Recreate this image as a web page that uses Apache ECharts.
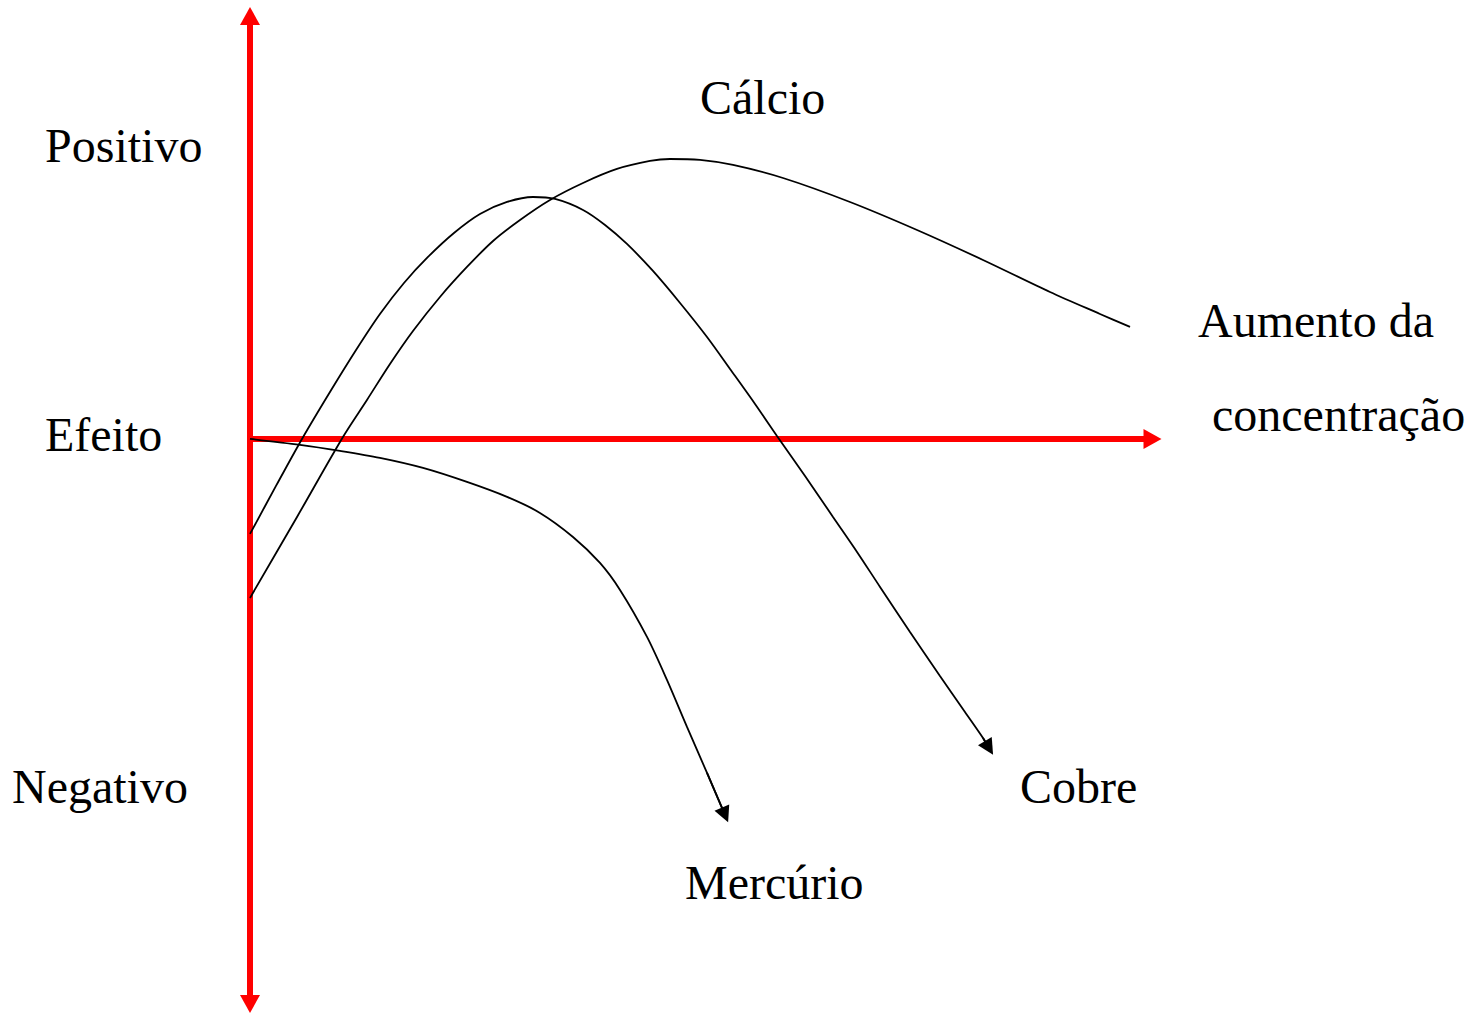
<!DOCTYPE html>
<html>
<head>
<meta charset="utf-8">
<script src="https://cdn.jsdelivr.net/npm/echarts@6/dist/echarts.min.js"></script>
<style>
html,body{margin:0;padding:0;background:#fff;}
#chart{width:1470px;height:1015px;}
</style>
</head>
<body>
<div id="chart"></div>
<script>
// Concentration (x, 0..100) vs effect (y, positive up)
var cobre = [[0,-22.46],[2.88,-11.11],[5.76,0],[8.86,11.11],[11.75,21.04],[14.40,29.55],[17.06,36.88],[19.72,43.03],[22.60,48.70],[25.48,53.19],[28.48,56.03],[31.36,57.21],[33.80,56.74],[36.90,54.14],[39.34,50.59],[41.77,46.10],[44.65,39.72],[47.65,32.15],[50.64,24.11],[53.19,16.55],[55.96,8.27],[58.39,0.71],[61.50,-8.75],[64.60,-18.44],[67.26,-26.71],[69.81,-34.99],[73.13,-45.63],[76.45,-56.03],[79.22,-64.54],[81.22,-70.69],[81.88,-73.05]];
var calcio = [[0,-37.59],[5.21,-18.44],[10.30,0.47],[12.96,9.22],[15.51,17.73],[18.06,25.53],[21.05,33.57],[24.04,40.66],[26.93,46.81],[29.92,51.77],[33.24,56.50],[36.90,60.52],[40.66,63.83],[44.32,65.72],[46.54,66.19],[49.86,65.96],[53.52,64.78],[59.06,61.70],[66.48,56.03],[73.91,49.41],[81.22,42.32],[88.64,34.75],[94.18,29.55],[97.51,26.48]];
var mercurio = [[0,0],[5.54,-1.42],[9.97,-2.84],[14.40,-4.49],[19.17,-6.86],[24.04,-10.17],[28.48,-13.71],[32.13,-17.49],[35.79,-23.17],[38.78,-29.31],[41.00,-35.70],[43.99,-46.81],[46.20,-56.97],[48.42,-68.09],[50.64,-78.96],[52.63,-88.89]];
var seriesNames = ['Cobre','Cálcio','Mercúrio'];
var axisWords = ['Positivo','Efeito','Negativo'];
var xTitleLines = ['Aumento da','concentração'];

var FONT = '48px "Liberation Serif", "Times New Roman", serif';
function txt(t, x, y){
  return {type:'text', x:x, y:y, z:100,
    style:{text:t, font:FONT, fill:'#000', textAlign:'left', textVerticalAlign:'middle', align:'left', verticalAlign:'middle'}};
}
function arrowHead(d){
  return {type:'lines', coordinateSystem:'cartesian2d', polyline:false, silent:true, z:3,
    symbol:['none','triangle'], symbolSize:[14,16],
    lineStyle:{color:'#000', width:1.8, opacity:1},
    data:[{coords:[d[d.length-2], d[d.length-1]]}]};
}
function curve(name, d){
  return {type:'line', name:name, data:d, smooth:0.3, showSymbol:false, symbol:'none', silent:true,
    lineStyle:{color:'#000', width:1.8}, z:3};
}

var chart = echarts.init(document.getElementById('chart'), null, {renderer:'svg'});
chart.setOption({
  animation:false,
  backgroundColor:'#fff',
  grid:{left:250, top:16, width:902.5, height:988, containLabel:false},
  xAxis:{type:'value', min:0, max:100,
    axisLine:{show:true, onZero:true, symbol:['none','triangle'], symbolSize:[20,18], lineStyle:{color:'#ff0000', width:6}},
    axisTick:{show:false}, axisLabel:{show:false}, splitLine:{show:false}},
  yAxis:{type:'value', min:-133.6, max:100,
    axisLine:{show:true, onZero:false, symbol:['triangle','triangle'], symbolSize:[20,18], lineStyle:{color:'#ff0000', width:6}},
    axisTick:{show:false}, axisLabel:{show:false}, splitLine:{show:false}},
  series:[
    curve(seriesNames[0], cobre),
    curve(seriesNames[1], calcio),
    curve(seriesNames[2], mercurio),
    arrowHead(cobre),
    arrowHead(mercurio)
  ],
  graphic:[
    txt(axisWords[0], 45, 145),
    txt(axisWords[1], 45, 434),
    txt(axisWords[2], 12, 786),
    txt(seriesNames[1], 700, 97),
    txt(seriesNames[0], 1020, 786),
    txt(seriesNames[2], 685, 882),
    txt(xTitleLines[0], 1198, 320),
    txt(xTitleLines[1], 1212, 414)
  ]
});
</script>
</body>
</html>
